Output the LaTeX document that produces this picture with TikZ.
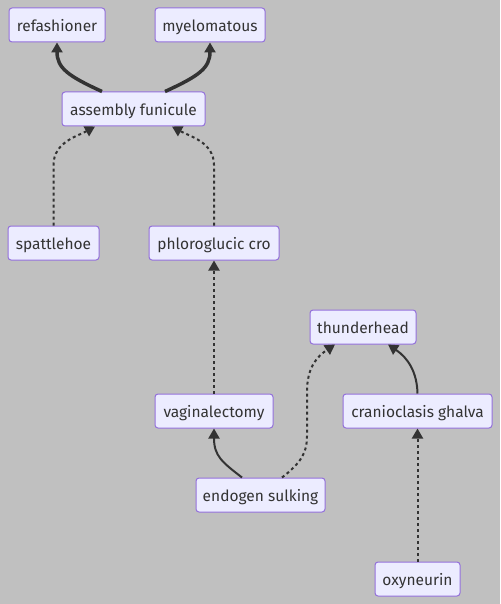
\documentclass[tikz,border=0pt]{standalone}
\usepackage{fontspec}
\setmainfont{Fira Sans}
\usetikzlibrary{arrows.meta}
\definecolor{bg}{HTML}{C0C0C0}
\definecolor{nodefill}{HTML}{ECECFF}
\definecolor{nodeline}{HTML}{9370DB}
\definecolor{ink}{HTML}{333333}
\tikzset{
  box/.style={draw=nodeline, fill=nodefill, line width=1pt, rounded corners=3pt,
    minimum height=34pt, inner sep=0pt, text=ink, text height=14.5pt, text depth=2pt,
    font=\fontsize{15.5pt}{18pt}\selectfont},
  edge/.style={draw=ink, line width=2pt, -{Triangle[length=10pt,width=11pt]}},
  thickedge/.style={draw=ink, line width=3.5pt, -{Triangle[length=10pt,width=11pt]}},
  dotedge/.style={draw=ink, line width=2pt, dash pattern=on 3pt off 3pt, -{Triangle[length=10pt,width=11pt]}},
}
\begin{document}
\begin{tikzpicture}[x=1pt,y=-1pt]
\path[use as bounding box, fill=bg] (0,0) rectangle (500,604);
\node[box, minimum width=96pt] (ref) at (57,25) {refashioner};
\node[box, minimum width=110pt] (mye) at (210,25) {myelomatous};
\node[box, minimum width=143pt] (af) at (133.5,109) {assembly funicule};
\node[box, minimum width=91pt] (sp) at (53.5,243) {spattlehoe};
\node[box, minimum width=130pt] (ph) at (214,243) {phloroglucic cro};
\node[box, minimum width=106pt] (th) at (363,327) {thunderhead};
\node[box, minimum width=118pt] (va) at (214,411) {vaginalectomy};
\node[box, minimum width=149pt] (cg) at (417.5,411) {cranioclasis ghalva};
\node[box, minimum width=129pt] (es) at (260.5,495) {endogen sulking};
\node[box, minimum width=85pt] (ox) at (417.5,579) {oxyneurin};

\draw[thickedge] ([xshift=-31.5pt]af.north) .. controls (68,76) and (57,68) .. (ref.south);
\draw[thickedge] ([xshift=31.5pt]af.north) .. controls (199,76) and (210,68) .. (mye.south);

\draw[dotedge] (sp.north) -- (53.5,165) .. controls (53.5,142) and (78,136) .. ([xshift=-38.5pt]af.south);
\draw[dotedge] (ph.north) -- (214,165) .. controls (214,142) and (189,136) .. ([xshift=38.5pt]af.south);
\draw[dotedge] (va.north) -- (ph.south);

\draw[edge] ([xshift=-18.5pt]es.north) .. controls (222,462) and (214,456) .. (va.south);
\draw[dotedge] ([xshift=21.5pt]es.north) .. controls (302,462) and (307,452) .. (307,436) -- (307,392) .. controls (307,366) and (318,356) .. ([xshift=-28pt]th.south);
\draw[edge] (cg.north) .. controls (417,372) and (408,358) .. ([xshift=25pt]th.south);
\draw[dotedge] (ox.north) -- (cg.south);
\end{tikzpicture}
\end{document}
